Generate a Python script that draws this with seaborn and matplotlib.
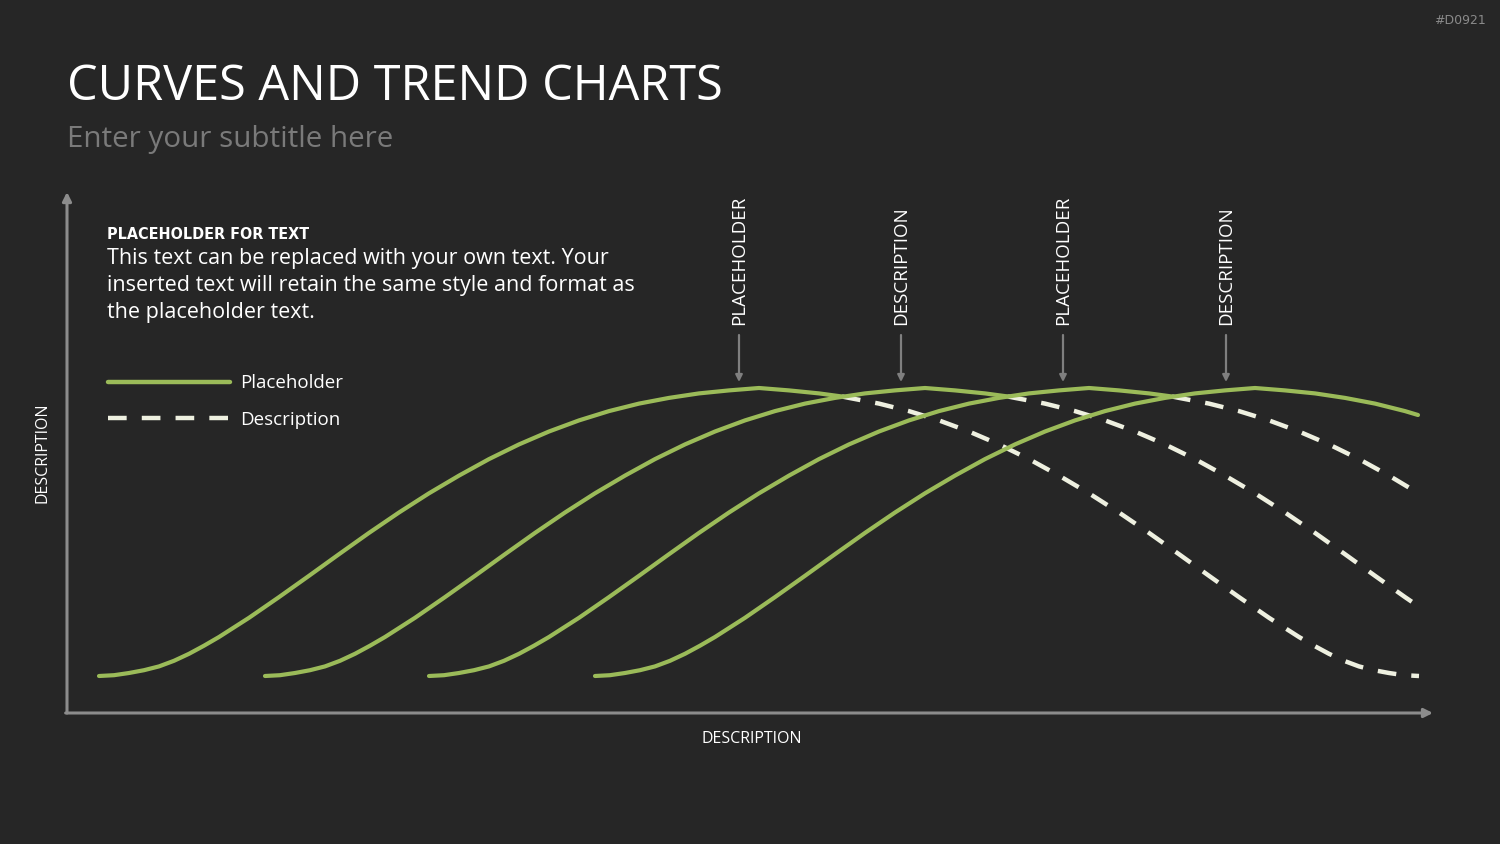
import numpy as np
import pandas as pd
import matplotlib
matplotlib.use('Agg')
import matplotlib.pyplot as plt
from matplotlib.lines import Line2D
import seaborn as sns

# Chart values (arbitrary units, the original has no ticks)
curve_names = ['Curve 1', 'Curve 2', 'Curve 3', 'Curve 4']

curve1_x = [3.2, 4.7, 6.2, 7.7, 9.2, 10.7, 12.2, 13.7, 15.2, 18.2, 21.2, 24.2, 27.2, 30.2, 33.2, 36.2,
            39.2, 42.2, 45.2, 48.2, 51.2, 54.2, 57.2, 60.2, 63.2, 66.2, 69.2, 72.2, 75.2, 77.5, 78.2,
            81.2, 84.2, 87.2, 90.2, 93.2, 96.2, 99.2, 102.2, 105.2, 108.2, 111.2, 114.2, 117.2,
            120.2, 123.2, 124.7, 126.2, 127.7, 129.2, 130.7, 132.2, 133.7, 135.2]
curve1_y = [3.70, 3.78, 4.00, 4.28, 4.66, 5.22, 5.92, 6.73, 7.60, 9.52, 11.59, 13.72, 15.88, 18.01,
            20.05, 21.97, 23.74, 25.39, 26.86, 28.15, 29.26, 30.19, 30.94, 31.51, 31.96, 32.26, 32.50,
            32.26, 31.96, 31.65, 31.51, 30.94, 30.19, 29.26, 28.15, 26.86, 25.39, 23.74, 21.97, 20.05,
            18.01, 15.88, 13.72, 11.59, 9.52, 7.60, 6.73, 5.92, 5.22, 4.66, 4.28, 4.00, 3.78, 3.70]

curve2_x = [19.8, 21.3, 22.8, 24.3, 25.8, 27.3, 28.8, 30.3, 31.8, 34.8, 37.8, 40.8, 43.8, 46.8, 49.8,
            52.8, 55.8, 58.8, 61.8, 64.8, 67.8, 70.8, 73.8, 76.8, 79.8, 82.8, 85.8, 88.8, 91.8, 94.1,
            94.8, 97.8, 100.8, 103.8, 106.8, 109.8, 112.8, 115.8, 118.8, 121.8, 124.8, 127.8, 130.8,
            133.8, 135.1]
curve2_y = [3.70, 3.78, 4.00, 4.28, 4.66, 5.22, 5.92, 6.73, 7.60, 9.52, 11.59, 13.72, 15.88, 18.01,
            20.05, 21.97, 23.74, 25.39, 26.86, 28.15, 29.26, 30.19, 30.94, 31.51, 31.96, 32.26, 32.50,
            32.26, 31.96, 31.65, 31.51, 30.94, 30.19, 29.26, 28.15, 26.86, 25.39, 23.74, 21.97, 20.05,
            18.01, 15.88, 13.72, 11.59, 10.70]

curve3_x = [36.2, 37.7, 39.2, 40.7, 42.2, 43.7, 45.2, 46.7, 48.2, 51.2, 54.2, 57.2, 60.2, 63.2, 66.2,
            69.2, 72.2, 75.2, 78.2, 81.2, 84.2, 87.2, 90.2, 93.2, 96.2, 99.2, 102.2, 105.2, 108.2,
            110.5, 111.2, 114.2, 117.2, 120.2, 123.2, 126.2, 129.2, 132.2, 135.1]
curve3_y = [3.70, 3.78, 4.00, 4.28, 4.66, 5.22, 5.92, 6.73, 7.60, 9.52, 11.59, 13.72, 15.88, 18.01,
            20.05, 21.97, 23.74, 25.39, 26.86, 28.15, 29.26, 30.19, 30.94, 31.51, 31.96, 32.26, 32.50,
            32.26, 31.96, 31.65, 31.51, 30.94, 30.19, 29.26, 28.15, 26.86, 25.39, 23.74, 22.00]

curve4_x = [52.8, 54.3, 55.8, 57.3, 58.8, 60.3, 61.8, 63.3, 64.8, 67.8, 70.8, 73.8, 76.8, 79.8, 82.8,
            85.8, 88.8, 91.8, 94.8, 97.8, 100.8, 103.8, 106.8, 109.8, 112.8, 115.8, 118.8, 121.8,
            124.8, 127.8, 130.8, 133.8, 135.1]
curve4_y = [3.70, 3.78, 4.00, 4.28, 4.66, 5.22, 5.92, 6.73, 7.60, 9.52, 11.59, 13.72, 15.88, 18.01,
            20.05, 21.97, 23.74, 25.39, 26.86, 28.15, 29.26, 30.19, 30.94, 31.51, 31.96, 32.26, 32.50,
            32.26, 31.96, 31.51, 30.94, 30.19, 29.80]

# where each curve crosses the next one and turns dashed (None = stays solid)
dash_from = [77.5, 94.1, 110.5, None]

marker_labels = ['PLACEHOLDER', 'DESCRIPTION', 'PLACEHOLDER', 'DESCRIPTION']
marker_x = [67.2, 83.4, 99.6, 115.9]

legend_labels = ['Placeholder', 'Description']

title = 'CURVES AND TREND CHARTS'
subtitle = 'Enter your subtitle here'
text_head = 'PLACEHOLDER FOR TEXT'
text_body = ['This text can be replaced with your own text. Your',
             'inserted text will retain the same style and format as',
             'the placeholder text.']

# colours
bg = '#262626'
green = '#9BBB59'
cream = '#EEF0E0'
axis_grey = '#8C8C8C'
label_grey = '#7F7F7F'

# long table: solid rise + dashed decline
rows = []
for name, xs, ys, cut in zip(curve_names,
                             [curve1_x, curve2_x, curve3_x, curve4_x],
                             [curve1_y, curve2_y, curve3_y, curve4_y],
                             dash_from):
    for x, y in zip(xs, ys):
        if cut is None or x <= cut:
            rows.append((name, 'solid', x, y))
        if cut is not None and x >= cut:
            rows.append((name, 'dashed', x, y))
df = pd.DataFrame(rows, columns=['curve', 'part', 'x', 'y'])

sns.set_theme(style='dark', rc={'figure.facecolor': bg, 'axes.facecolor': bg})
plt.rcParams['font.family'] = ['Open Sans', 'DejaVu Sans']

W, H = 1500, 844
fig = plt.figure(figsize=(15, 8.44), dpi=100)
ax = fig.add_axes([67 / W, (H - 713) / H, (1433 - 67) / W, (713 - 192) / H])
ax.set_xlim(0, 136.6)
ax.set_ylim(0, 52.1)

dash_pat = (4.2, 3.4)
sns.lineplot(data=df[df.part == 'dashed'], x='x', y='y', units='curve', estimator=None,
             color=cream, linewidth=3.2, linestyle=(0, dash_pat), ax=ax, legend=False,
             sort=False)
sns.lineplot(data=df[df.part == 'solid'], x='x', y='y', units='curve', estimator=None,
             color=green, linewidth=3.0, ax=ax, legend=False, sort=False)

for sp in ax.spines.values():
    sp.set_visible(False)
ax.set_xticks([])
ax.set_yticks([])
ax.set_xlabel('')
ax.set_ylabel('')

# axes drawn as arrows
arrow_kw = dict(arrowstyle='-|>', color=axis_grey, lw=2.2, mutation_scale=13, shrinkA=0, shrinkB=0)
ax.annotate('', xy=(0, 1.0), xytext=(0, 0), xycoords='axes fraction', arrowprops=arrow_kw,
            annotation_clip=False)
ax.annotate('', xy=(1.0, 0), xytext=(-0.001, 0), xycoords='axes fraction', arrowprops=arrow_kw,
            annotation_clip=False)

# vertical call-outs with small arrows
for lab, mx in zip(marker_labels, marker_x):
    ax.annotate('', xy=(mx, 33.1), xytext=(mx, 37.8),
                arrowprops=dict(arrowstyle='-|>', color=label_grey, lw=1.6, mutation_scale=10,
                                shrinkA=0, shrinkB=0), annotation_clip=False)
    ax.text(mx, 38.8, lab, rotation=90, ha='center', va='bottom', color='white', fontsize=13.5)

# axis titles
fig.text(42 / W, 1 - 453 / H, 'DESCRIPTION', rotation=90, ha='center', va='center',
         color='white', fontsize=11.5)
fig.text(752 / W, 1 - 739 / H, 'DESCRIPTION', ha='center', va='center', color='white', fontsize=11.5)

# title block
fig.text(67 / W, 1 - 100 / H, title, ha='left', va='baseline', color='white', fontsize=35)
fig.text(67 / W, 1 - 147 / H, subtitle, ha='left', va='baseline', color='#7A7A7A', fontsize=21.3)
fig.text(1486 / W, 1 - 20 / H, '#D0921', ha='right', va='center', color='#8A8A8A', fontsize=9,
         family=['DejaVu Sans'])

# text box
fig.text(107 / W, 1 - 239 / H, text_head, ha='left', va='baseline', color='white', fontsize=11.5,
         family=['DejaVu Sans'], fontweight='bold', fontstretch='condensed')
for i, line in enumerate(text_body):
    fig.text(107 / W, 1 - (264 + 27 * i) / H, line, ha='left', va='baseline', color='white',
             fontsize=15.5)

# legend
handles = [Line2D([], [], color=green, lw=3.2),
           Line2D([], [], color=cream, lw=3.2, linestyle=(0, dash_pat))]
leg = ax.legend(handles, legend_labels, loc='upper left', bbox_to_anchor=(95 / W, 1 - 361 / H),
                bbox_transform=fig.transFigure, frameon=False, fontsize=13.5, handlelength=6.5,
                handletextpad=0.55, labelspacing=1.0, borderpad=0.2)
for t in leg.get_texts():
    t.set_color('white')

fig.savefig('out.png', dpi=100, facecolor=bg)
